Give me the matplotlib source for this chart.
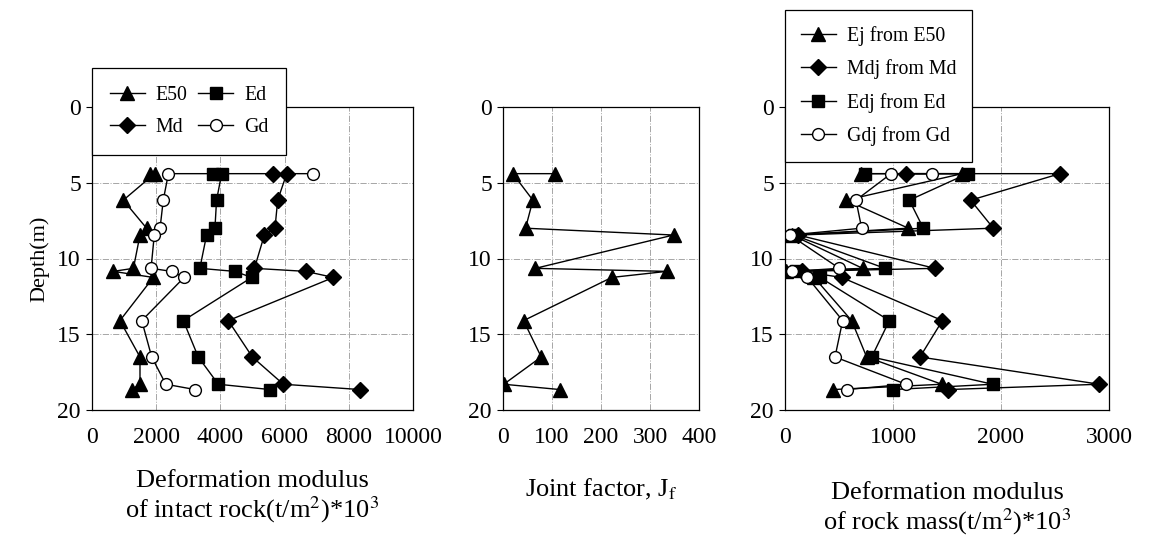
import matplotlib
matplotlib.use('Agg')
from matplotlib import pyplot as plt

plt.rcParams['font.family'] = ['Liberation Serif', 'DejaVu Serif']
plt.rcParams['mathtext.fontset'] = 'stix'

# depth of each test point (m), shared by all three panels
depth = [4.4, 4.4, 6.15, 8.0, 8.45, 10.65, 10.85, 11.25, 14.1, 16.5, 18.3, 18.65]

# intact rock moduli (t/m2 * 10^3)
e50 = [1800, 1950, 975, 1700, 1495, 1290, 660, 1910, 870, 1495, 1495, 1240]
ed = [3780, 4040, 3880, 3830, 3570, 3360, 4450, 4975, 2845, 3310, 3935, 5545]
md = [5630, 6065, 5785, 5700, 5370, 5060, 6660, 7520, 4245, 4995, 5960, 8350]
gd = [6895, 2380, 2220, 2120, 1940, 1840, 2480, 2870, 1550, 1860, 2300, 3210]

# joint factor
jf = [106, 20, 61, 46, 348, 66, 334, 222, 42, 78, 1.5, 116]

# rock mass moduli (t/m2 * 10^3)
ej = [700, 1640, 565, 1142, 65, 719, 5, 270, 617, 756, 1451, 447]
mdj = [1120, 2546, 1719, 1929, 120, 1389, 155, 525, 1457, 1250, 2910, 1512]
edj = [740, 1690, 1151, 1281, 80, 926, 105, 324, 966, 803, 1923, 1003]
gdj = [1364, 982, 657, 710, 45, 503, 62, 207, 534, 463, 1120, 571]

W, H = 1150, 536
fig = plt.figure(figsize=(W / 100, H / 100), dpi=100)


def add_panel(left, right, top=107, bottom=410):
    return fig.add_axes([left / W, 1 - bottom / H, (right - left) / W, (bottom - top) / H])


tri = dict(marker='^', ms=10.5, mfc='black', mec='black')
dia = dict(marker='D', ms=8, mfc='black', mec='black')
sq = dict(marker='s', ms=8.5, mfc='black', mec='black')
circ = dict(marker='o', ms=8.5, mfc='white', mec='black', mew=1.0)
line = dict(color='black', lw=1.0)


def style_panel(ax, xmax, xticks, xlabel, labelpad):
    ax.set_xlim(0, xmax)
    ax.set_ylim(20, 0)
    ax.set_xticks(xticks)
    ax.set_yticks([0, 5, 10, 15, 20])
    ax.grid(True, ls='-.', color='0.65', lw=0.7)
    ax.set_axisbelow(True)
    ax.tick_params(axis='x', length=0, pad=12, labelsize=17)
    ax.tick_params(axis='y', length=4, direction='out', pad=4, labelsize=17)
    for s in ax.spines.values():
        s.set_linewidth(0.9)
    ax.set_xlabel(xlabel, fontsize=19, labelpad=labelpad, linespacing=1.1)


legend_kw = dict(bbox_transform=fig.transFigure, loc='upper left', borderaxespad=0,
                 fancybox=False, edgecolor='black', framealpha=1, fontsize=14.3,
                 handlelength=1.75, handletextpad=0.55, labelspacing=0.68)

# intact rock
ax1 = add_panel(92, 413)
h_e50, = ax1.plot(e50, depth, label='E50', **line, **tri)
h_ed, = ax1.plot(ed, depth, label='Ed', **line, **sq)
h_md, = ax1.plot(md, depth, label='Md', **line, **dia)
h_gd, = ax1.plot(gd, depth, label='Gd', **line, **circ)
style_panel(ax1, 10000, [0, 2000, 4000, 6000, 8000, 10000],
            'Deformation modulus\nof intact rock(t/m$^2$)*10$^3$', 16)
ax1.set_ylabel('Depth(m)', fontsize=16, labelpad=6)
leg1 = ax1.legend(handles=[h_e50, h_md, h_ed, h_gd], ncol=2, columnspacing=0.55,
                  borderpad=0.9, bbox_to_anchor=(92 / W, 1 - 68 / H), **legend_kw)
leg1.get_frame().set_linewidth(0.9)

# joint factor
ax2 = add_panel(503, 699)
ax2.plot(jf, depth, **line, **tri)
style_panel(ax2, 400, [0, 100, 200, 300, 400], 'Joint factor, J$_{\\mathrm{f}}$', 21)

# rock mass
ax3 = add_panel(785, 1109)
ax3.plot(ej, depth, label='Ej from E50', **line, **tri)
ax3.plot(mdj, depth, label='Mdj from Md', **line, **dia)
ax3.plot(edj, depth, label='Edj from Ed', **line, **sq)
ax3.plot(gdj, depth, label='Gdj from Gd', **line, **circ)
style_panel(ax3, 3000, [0, 1000, 2000, 3000],
            'Deformation modulus\nof rock mass(t/m$^2$)*10$^3$', 25)
leg3 = ax3.legend(borderpad=0.8, bbox_to_anchor=(785 / W, 1 - 10 / H), **legend_kw)
leg3.get_frame().set_linewidth(0.9)

fig.savefig('out.png', dpi=100)
